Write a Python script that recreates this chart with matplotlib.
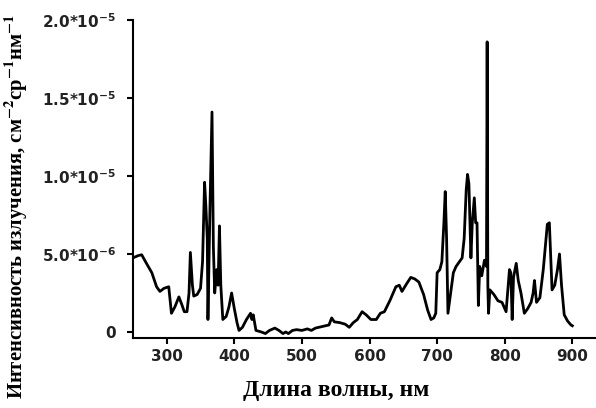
import numpy as np
import matplotlib.pyplot as plt

# wavelength (nm) and emission intensity (units of 1e-6)
wavelength = [250, 258, 263, 270, 278, 285, 290, 296, 303, 307, 312, 318, 322, 326, 330,
              333, 335, 338, 340, 345, 350, 353, 356, 358, 360, 361, 364, 367, 369, 371,
              374, 376, 378, 380, 383, 388, 392, 396, 400, 404, 407, 412, 418, 424, 426,
              428, 432, 440, 446, 452, 460, 466, 472, 476, 480, 486, 492, 500, 508, 514,
              520, 530, 540, 544, 548, 556, 564, 570, 576, 582, 589, 595, 602, 610, 616,
              622, 630, 639, 644, 648, 655, 661, 667, 673, 680, 686, 691, 695, 698, 700,
              704, 707, 710, 712, 714, 716, 720, 724, 728, 733, 737, 740, 743, 745, 747,
              750, 752, 755, 757, 759, 761, 763, 766, 770, 773, 774, 775, 776, 778, 784,
              790, 796, 802, 807, 809, 811, 813, 817, 820, 824, 829, 834, 839, 842, 844,
              847, 852, 857, 863, 866, 870, 874, 878, 881, 884, 888, 893, 898, 900]
intensity = [4.75, 4.9, 4.95, 4.4, 3.8, 2.9, 2.6, 2.8, 2.9, 1.2, 1.6, 2.25, 1.8, 1.3, 1.3,
             2.5, 5.1, 3.0, 2.3, 2.4, 2.8, 4.5, 9.6, 8.0, 6.0, 0.8, 8.0, 14.1, 5.5, 2.5,
             4.0, 3.0, 6.8, 3.0, 0.8, 1.0, 1.6, 2.5, 1.5, 0.6, 0.1, 0.3, 0.8, 1.2, 0.8,
             1.1, 0.1, 0.0, -0.1, 0.1, 0.25, 0.1, -0.1, 0.0, -0.1, 0.1, 0.15, 0.1, 0.2, 0.1,
             0.25, 0.35, 0.45, 0.9, 0.65, 0.6, 0.5, 0.3, 0.6, 0.8, 1.3, 1.1, 0.8, 0.8, 1.2,
             1.3, 2.0, 2.9, 3.0, 2.6, 3.1, 3.5, 3.4, 3.2, 2.4, 1.4, 0.8, 0.9, 1.2, 3.8,
             4.0, 4.5, 7.0, 9.0, 6.0, 1.2, 2.5, 3.8, 4.2, 4.5, 4.75, 6.0, 9.1, 10.1, 9.5,
             4.75, 7.0, 8.6, 7.0, 7.0, 1.7, 4.2, 3.6, 4.6, 4.2, 18.6, 3.0, 1.2, 2.7, 2.4,
             2.0, 1.9, 1.3, 4.0, 3.8, 0.8, 3.5, 4.4, 3.3, 2.5, 1.2, 1.5, 1.9, 2.5, 3.3,
             1.9, 2.2, 4.0, 6.9, 7.0, 2.7, 3.0, 4.0, 5.0, 3.0, 1.1, 0.7, 0.45, 0.4]

xticks = [300, 400, 500, 600, 700, 800, 900]
yticks = [0, 5e-6, 1e-5, 1.5e-5, 2e-5]
ytick_labels = ['0', '5.0*10$^{-6}$', '1.0*10$^{-5}$', '1.5*10$^{-5}$', '2.0*10$^{-5}$']

plt.rcParams['mathtext.default'] = 'bf'

fig = plt.figure(figsize=(5.96, 4.08), dpi=100)
ax = fig.add_axes([0.223, 0.171, 0.777, 0.78])

ax.plot(wavelength, np.array(intensity) * 1e-6, color='black', linewidth=2.0,
        solid_joinstyle='round')

ax.set_xlim(250, 935)
ax.set_ylim(-0.4e-6, 2.0e-5)
ax.spines['top'].set_visible(False)
ax.spines['right'].set_visible(False)
ax.spines['left'].set_linewidth(1.5)
ax.spines['bottom'].set_linewidth(1.5)

ax.set_xticks(xticks)
ax.set_xticklabels([str(t) for t in xticks], fontsize=11, fontweight='bold', color='#222222')
ax.set_yticks(yticks)
ax.set_yticklabels(ytick_labels, fontsize=11, fontweight='bold', color='#222222')
ax.tick_params(axis='both', direction='out', length=4, width=1.5)
ax.tick_params(axis='y', pad=8)
ax.tick_params(axis='x', pad=4)

fig.text(0.564, 0.042, 'Длина волны, нм', family='Liberation Serif', fontweight='bold',
         fontsize=17, ha='center', va='center')
fig.text(0.027, 0.966, 'Интенсивность излучения, см$^{-2}$ср$^{-1}$нм$^{-1}$',
         family='Liberation Serif', fontweight='bold', fontsize=14.9, rotation=90,
         math_fontfamily='stix', ha='center', va='top')

fig.savefig('out.png', dpi=100)
